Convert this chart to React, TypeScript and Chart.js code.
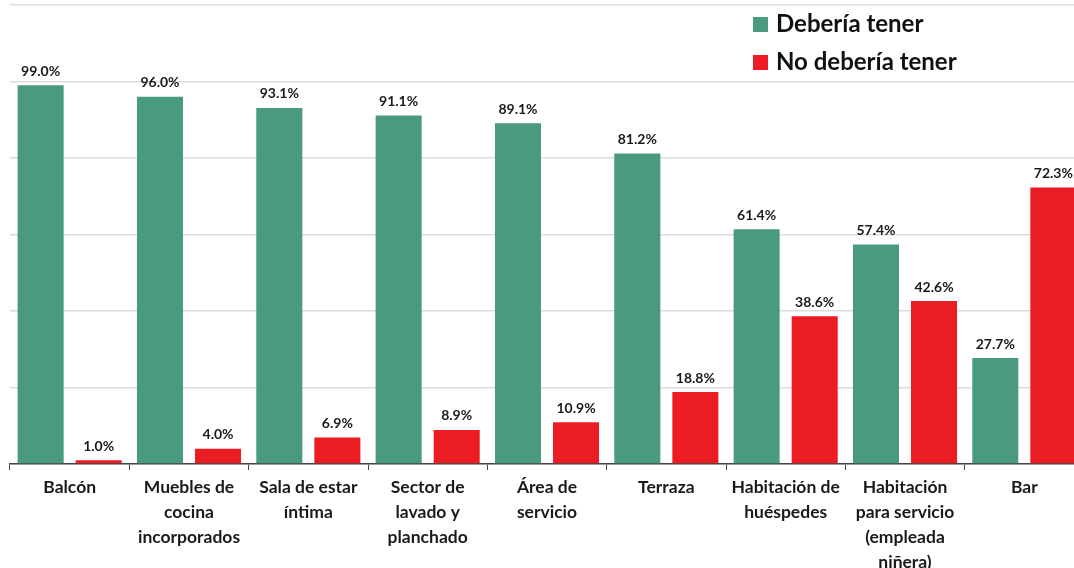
import React, { useEffect, useRef } from "react";
import { Chart, registerables } from "chart.js";

Chart.register(...registerables);

const categories: string[][] = [
  ["Balcón"],
  ["Muebles de", "cocina", "incorporados"],
  ["Sala de estar", "íntima"],
  ["Sector de", "lavado y", "planchado"],
  ["Área de", "servicio"],
  ["Terraza"],
  ["Habitación de", "huéspedes"],
  ["Habitación", "para servicio", "(empleada", "niñera)"],
  ["Bar"],
];

const seriesNames = ["Debería tener", "No debería tener"];
const deberiaTener = [99.0, 96.0, 93.1, 91.1, 89.1, 81.2, 61.4, 57.4, 27.7];
const noDeberiaTener = [1.0, 4.0, 6.9, 8.9, 10.9, 18.8, 38.6, 42.6, 72.3];

const GREEN = "#4a9a7f";
const RED = "#ec1c24";
const FONT = "Lato, 'Open Sans', sans-serif";

const valueLabels = {
  id: "valueLabels",
  afterDatasetsDraw(chart: any) {
    const ctx = chart.ctx;
    ctx.save();
    ctx.font = `bold 14px ${FONT}`;
    ctx.fillStyle = "#1a1a1a";
    ctx.textAlign = "center";
    ctx.textBaseline = "bottom";
    chart.data.datasets.forEach((ds: any, di: number) => {
      const meta = chart.getDatasetMeta(di);
      meta.data.forEach((el: any, i: number) => {
        const v = ds.data[i];
        ctx.fillText(v.toFixed(1) + "%", el.x, el.y - 7);
      });
    });
    ctx.restore();
  },
};

const sideLegend = {
  id: "sideLegend",
  afterDraw(chart: any) {
    const ctx = chart.ctx;
    ctx.save();
    ctx.font = `bold 24px ${FONT}`;
    ctx.textBaseline = "middle";
    ctx.textAlign = "left";
    const x0 = 753;
    const ys = [24, 62];
    chart.data.datasets.forEach((ds: any, i: number) => {
      ctx.fillStyle = ds.backgroundColor;
      ctx.fillRect(x0, ys[i] - 7, 15, 15);
      ctx.fillStyle = "#111111";
      ctx.fillText(ds.label, x0 + 23, ys[i]);
    });
    ctx.restore();
  },
};

export default function App() {
  const ref = useRef<HTMLCanvasElement>(null);

  useEffect(() => {
    if (!ref.current) return;
    const chart = new Chart(ref.current, {
      type: "bar",
      data: {
        labels: categories,
        datasets: [
          {
            label: seriesNames[0],
            data: deberiaTener,
            backgroundColor: GREEN,
            categoryPercentage: 0.973,
            barPercentage: 0.793,
          },
          {
            label: seriesNames[1],
            data: noDeberiaTener,
            backgroundColor: RED,
            categoryPercentage: 0.973,
            barPercentage: 0.793,
          },
        ],
      },
      options: {
        responsive: false,
        animation: false,
        devicePixelRatio: 1,
        layout: { padding: { left: 10, top: 5, right: 0, bottom: 0 } },
        plugins: {
          legend: { display: false },
          tooltip: { enabled: false },
        },
        scales: {
          x: {
            offset: true,
            grid: {
              offset: true,
              drawOnChartArea: false,
              drawTicks: true,
              tickLength: 6,
              color: "#444444",
            },
            border: { display: true, color: "#444444", width: 1.5 },
            ticks: {
              font: { family: FONT, size: 17.5, weight: "bold", lineHeight: 1.43 },
              color: "#1a1a1a",
              maxRotation: 0,
              autoSkip: false,
              padding: 5,
            },
            afterFit: (s: any) => {
              s.height = 104;
            },
          },
          y: {
            min: 0,
            max: 120,
            ticks: { stepSize: 20, display: false },
            grid: { color: "#dcdcdc", drawTicks: false, lineWidth: 1.5 },
            border: { display: false },
            afterFit: (s: any) => {
              s.width = 0;
            },
          },
        },
      },
      plugins: [valueLabels, sideLegend],
    });
    return () => chart.destroy();
  }, []);

  return (
    <div
      style={{
        position: "fixed",
        left: 0,
        top: 0,
        width: 1074,
        height: 568,
        overflow: "hidden",
        background: "#ffffff",
      }}
    >
      <canvas ref={ref} width={1084} height={568} style={{ width: 1084, height: 568, display: "block" }} />
    </div>
  );
}
